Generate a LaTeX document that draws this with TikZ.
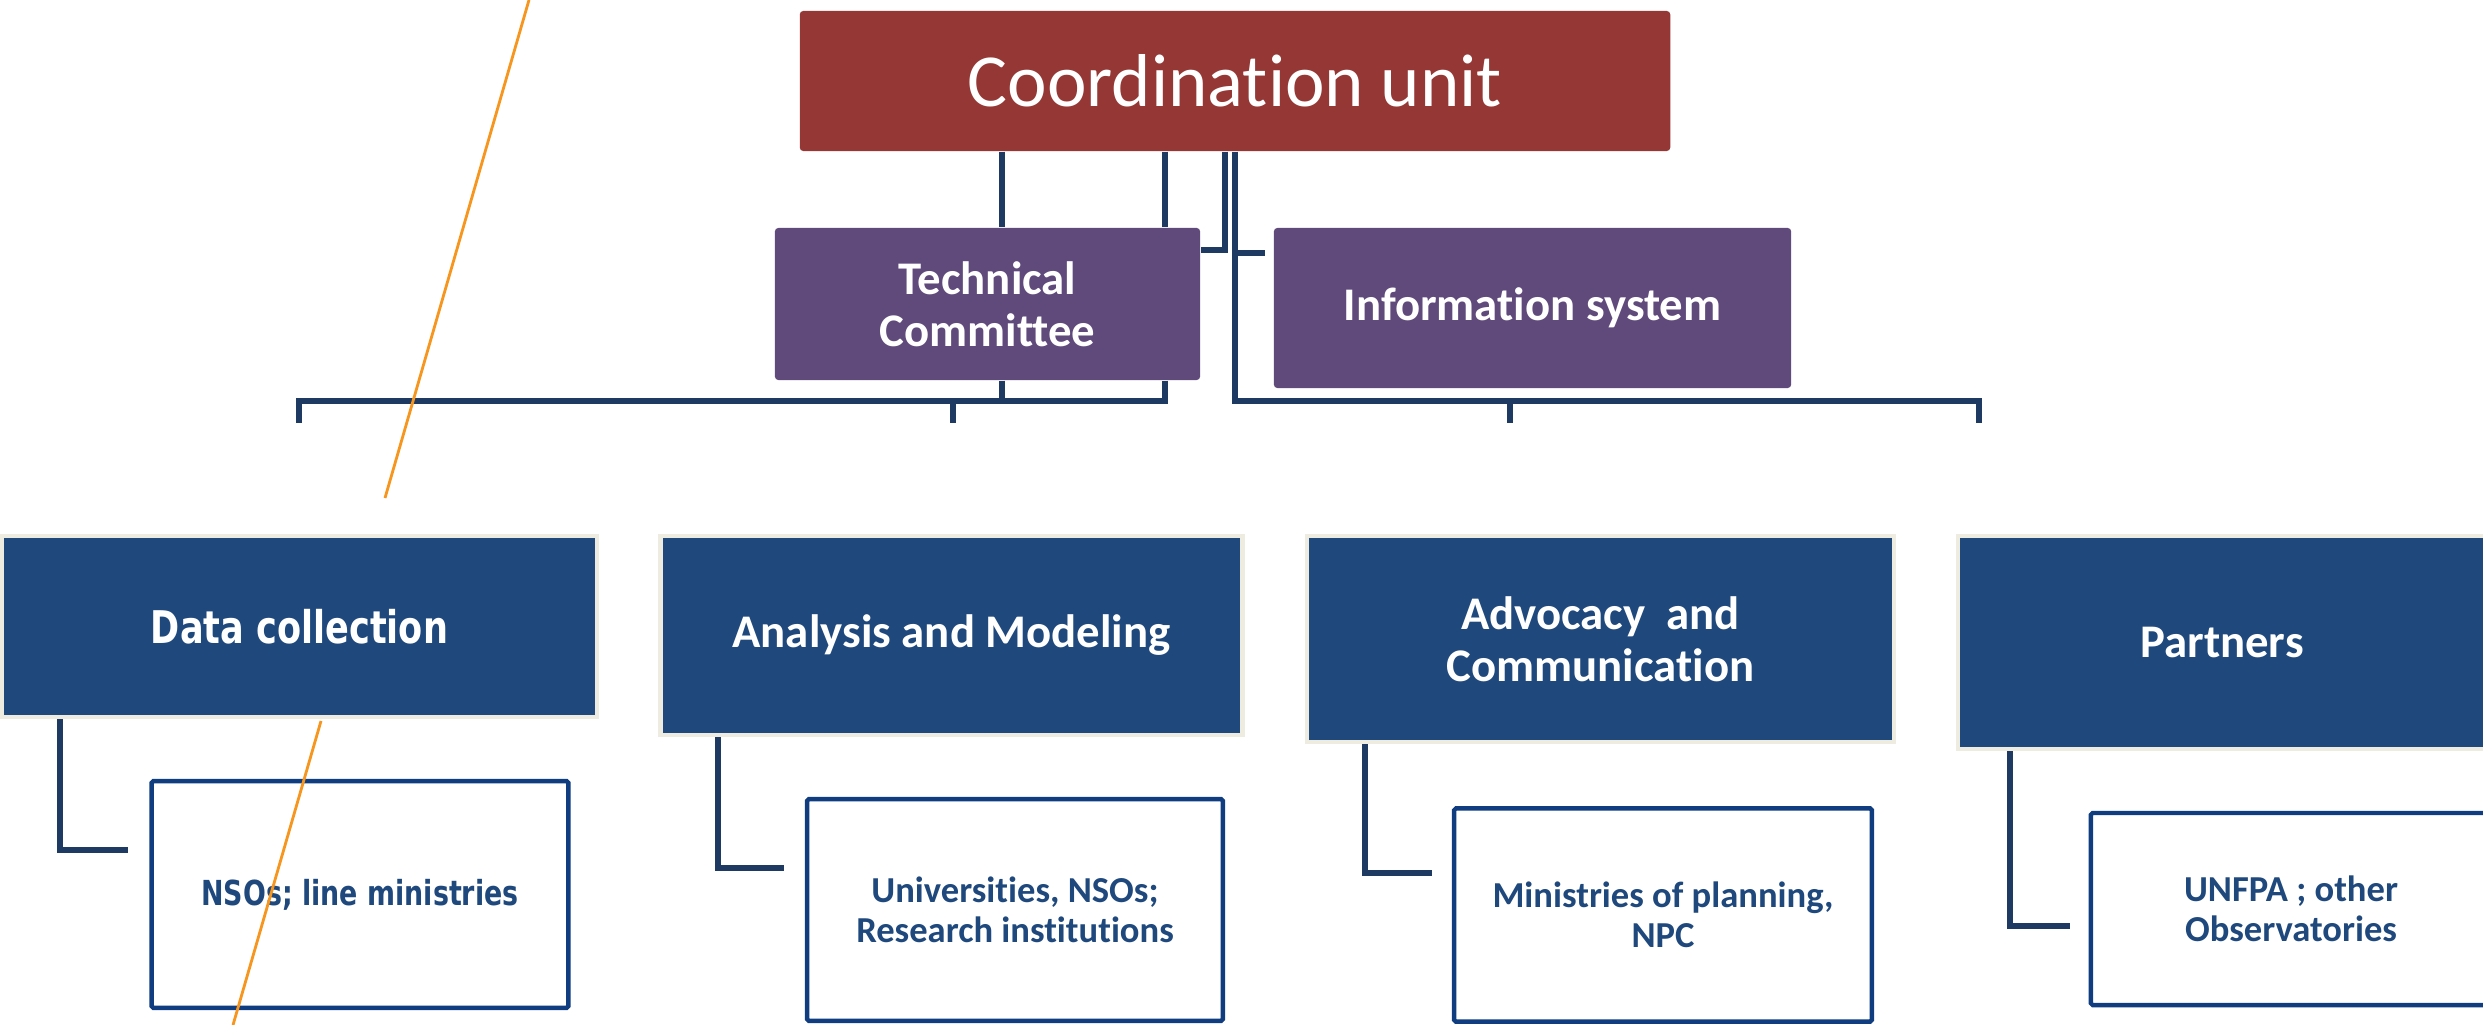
\documentclass[tikz,border=0pt]{standalone}
\usepackage{fontspec}
\setmainfont[Ligatures=NoCommon]{Carlito}
\newfontfamily\dcfont[FakeStretch=0.78]{DejaVu Sans}
\usetikzlibrary{positioning}
\definecolor{unitred}{RGB}{149,55,53}
\definecolor{compurple}{RGB}{96,74,123}
\definecolor{taskblue}{RGB}{31,73,125}
\definecolor{taskrim}{RGB}{238,236,225}
\definecolor{subrim}{RGB}{16,60,128}
\definecolor{linkblue}{RGB}{30,58,98}
\definecolor{slash}{RGB}{247,150,30}

\begin{document}
\begin{tikzpicture}[x=0.01cm, y=-0.01cm,
  unit/.style={rectangle, fill=unitred, text=white, rounded corners=1pt, inner sep=0pt,
    font=\fontsize{21.3}{26}\selectfont},
  committee/.style={rectangle, fill=compurple, text=white, rounded corners=1pt, inner sep=0pt,
    align=center, font=\fontsize{13.3}{14.8}\selectfont\bfseries},
  task/.style={rectangle, fill=taskblue, draw=taskrim, line width=1.28pt, text=white, inner sep=0pt,
    align=center, font=\fontsize{13.3}{14.8}\selectfont\bfseries},
  member/.style={rectangle, fill=white, draw=subrim, line width=1.25pt, rounded corners=0.5pt,
    text=taskblue, inner sep=0pt, align=center, font=\fontsize{10.4}{11.4}\selectfont\bfseries},
  link/.style={draw=linkblue, line width=1.45pt},
  slashline/.style={draw=slash, line width=0.8pt}]
\useasboundingbox (0,0) rectangle (2483,1025);
\clip (0,0) rectangle (2483,1025);

%top
\node[unit] (coord) at (1235,81) [minimum width=8.70cm, minimum height=1.40cm] {Coordination unit};
\node[committee] (tech) at (987.5,304) [minimum width=4.25cm, minimum height=1.52cm] {Technical\\Committee};
\node[committee] (info) at (1532.5,308) [minimum width=5.17cm, minimum height=1.60cm] {Information system};

%tasks
\node[task] (dc) at (299.5,626.5) [minimum width=5.945cm, minimum height=1.81cm,
  font=\dcfont\bfseries\fontsize{12.8}{15}\selectfont] {Data collection};
\node[task] (am) at (951.5,635.5) [minimum width=5.82cm, minimum height=1.985cm] {Analysis and Modeling};
\node[task] (ac) at (1600.5,639) [minimum width=5.865cm, minimum height=2.055cm] {Advocacy~ and\\Communication};
\node[task] (pa) at (2222,642.5) [minimum width=5.275cm, minimum height=2.125cm] {Partners};

%members
\node[member] (nso) at (360,894.5) [minimum width=4.165cm, minimum height=2.265cm,
  font=\dcfont\bfseries\fontsize{9.8}{11.4}\selectfont] {NSOs; line ministries};
\node[member] (uni) at (1015,910) [minimum width=4.155cm, minimum height=2.215cm] {Universities, NSOs;\\Research institutions};
\node[member] (mop) at (1663,915) [minimum width=4.175cm, minimum height=2.13cm] {Ministries of planning,\\NPC};
\node[member] (unf) at (2291,909) [minimum width=4.0cm, minimum height=1.92cm] {UNFPA ; other\\Observatories};

%links
\coordinate (k1) at (1002,0);
\coordinate (k2) at (1165,0);
\coordinate (k3) at (1225,250);
\coordinate (k4) at (1235,253);
\coordinate (k5) at (1265,253);
\coordinate (busL) at (299,401);
\coordinate (busM) at (953,401);
\coordinate (busC) at (1510,401);
\coordinate (busR) at (1979,401);

\draw[link] (coord.south -| k1) -- (tech.north -| k1);
\draw[link] (coord.south -| k2) -- (tech.north -| k2);
\draw[link] (coord.south -| k3) -- (k3) -- (k3 -| tech.east);
\draw[link] (coord.south -| k4) -- (k4 |- busR) -- (busR) -- ++(0,22);
\draw[link] (k4) -- (k5);
\draw[link] (busC) -- ++(0,22);

\draw[link] (tech.south -| k1) -- (k1 |- busL);
\draw[link] (tech.south -| k2) -- (k2 |- busL) -- (busL) -- ++(0,22);
\draw[link] (busM) -- ++(0,22);

\coordinate (dcbend) at (60,850);
\coordinate (dcend) at (128,850);
\coordinate (ambend) at (718,868);
\coordinate (amend) at (784,868);
\coordinate (acbend) at (1365,873);
\coordinate (acend) at (1432,873);
\coordinate (pabend) at (2010,926);
\coordinate (paend) at (2070,926);

\draw[link] (dc.south -| dcbend) -- (dcbend) -- (dcend);
\draw[link] (am.south -| ambend) -- (ambend) -- (amend);
\draw[link] (ac.south -| acbend) -- (acbend) -- (acend);
\draw[link] (pa.south -| pabend) -- (pabend) -- (paend);

%orange line
\draw[slashline] (529,0) -- (385,498);
\draw[slashline] (321,721) -- (233,1025);

\end{tikzpicture}
\end{document}
